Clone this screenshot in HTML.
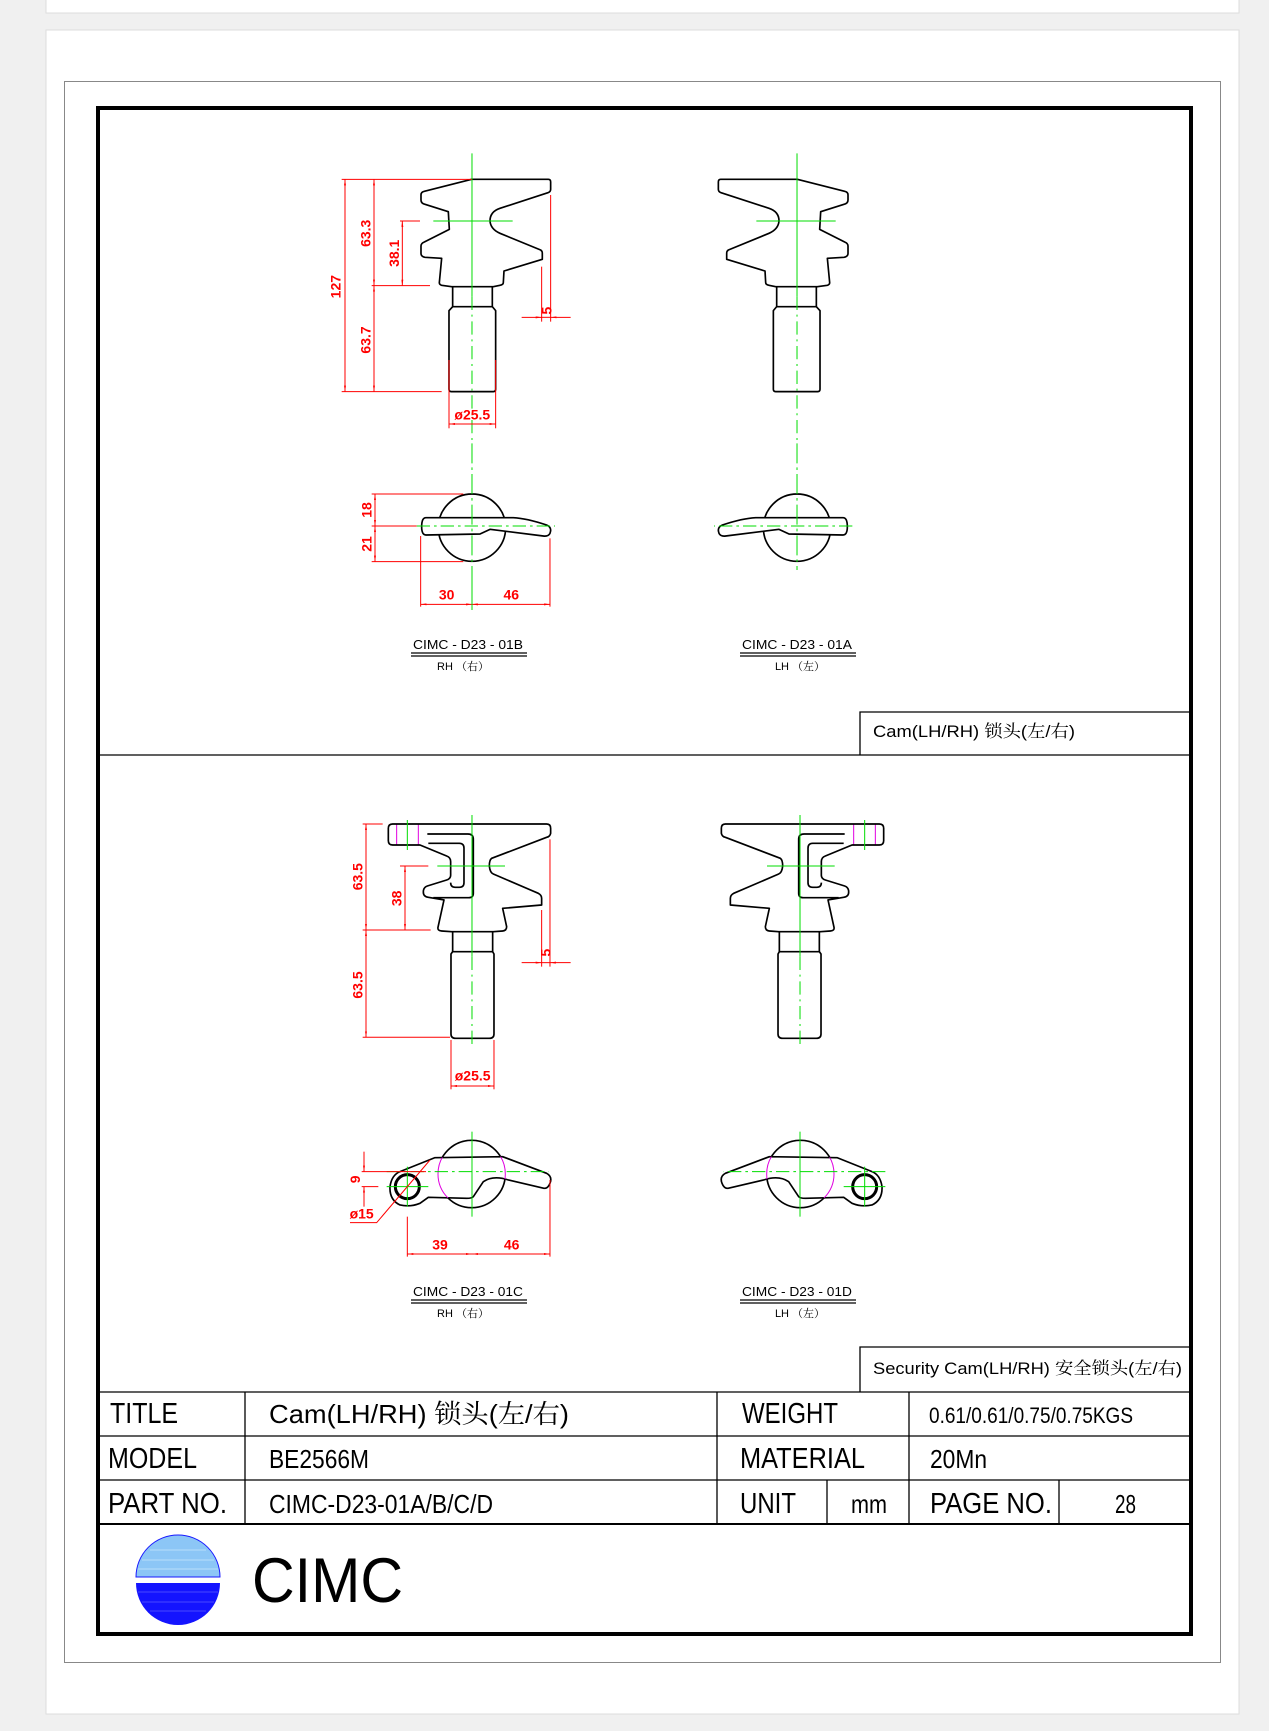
<!DOCTYPE html>
<html><head><meta charset="utf-8"><style>
html,body{margin:0;padding:0;background:#f0f0f0;}
svg{display:block;}
text{font-family:"Liberation Sans","Noto Serif CJK SC",serif;}
</style></head><body>
<svg width="1269" height="1731" viewBox="0 0 1269 1731" xmlns="http://www.w3.org/2000/svg">
<defs>
<marker id="ar" viewBox="0 0 10 10" refX="10" refY="5" markerWidth="18" markerHeight="6" markerUnits="userSpaceOnUse" orient="auto-start-reverse" preserveAspectRatio="none"><path d="M0,0 L10,5 L0,10 Z" fill="#f00"/></marker>
<clipPath id="hc"><path d="M345,143 L548,140 L680,190 Q698,200 690,220 Q684,236 672,235 L565,210 Q520,195 490,215 L460,260 Q455,265 440,265 L325,262 L300,280 Q270,292 240,285 Q208,270 210,230 Q215,195 240,185 Z"/></clipPath>
</defs>
<rect x="0" y="0" width="1269" height="1731" fill="#f0f0f0"/>
<rect x="46" y="-2" width="1193" height="15" fill="#fff" stroke="#ddd"/>
<rect x="46" y="30" width="1193" height="1684" fill="#fff" stroke="#ddd"/>
<rect x="64.5" y="81.5" width="1156" height="1581" fill="none" stroke="#888" stroke-width="1"/>
<rect x="98" y="108" width="1093" height="1526" fill="none" stroke="#000" stroke-width="4"/>
<line x1="98" y1="755" x2="1191" y2="755" stroke="#000" stroke-width="1.3"/>
<polyline points="860,755 860,712 1189,712" fill="none" stroke="#000" stroke-width="1.3"/>
<text x="873" y="737" font-size="17" textLength="202" lengthAdjust="spacingAndGlyphs">Cam(LH/RH)  锁头(左/右)</text>
<polyline points="860,1392 860,1347 1189,1347" fill="none" stroke="#000" stroke-width="1.3"/>
<text x="873" y="1374" font-size="17" textLength="309" lengthAdjust="spacingAndGlyphs">Security Cam(LH/RH)  安全锁头(左/右)</text>
<g stroke="#000" stroke-width="1.3">
<line x1="98" y1="1392" x2="1191" y2="1392"/>
<line x1="98" y1="1436" x2="1191" y2="1436"/>
<line x1="98" y1="1480" x2="1191" y2="1480"/>
<line x1="98" y1="1524" x2="1191" y2="1524" stroke-width="2"/>
<line x1="245" y1="1392" x2="245" y2="1524"/>
<line x1="717" y1="1392" x2="717" y2="1524"/>
<line x1="909" y1="1392" x2="909" y2="1524"/>
<line x1="827" y1="1480" x2="827" y2="1524"/>
<line x1="1059" y1="1480" x2="1059" y2="1524"/>
</g>
<g font-size="29">
<text x="110" y="1423" textLength="68" lengthAdjust="spacingAndGlyphs">TITLE</text>
<text x="108" y="1468" textLength="89" lengthAdjust="spacingAndGlyphs">MODEL</text>
<text x="108" y="1513" textLength="119" lengthAdjust="spacingAndGlyphs">PART NO.</text>
<text x="742" y="1423" textLength="96" lengthAdjust="spacingAndGlyphs">WEIGHT</text>
<text x="740" y="1468" textLength="125" lengthAdjust="spacingAndGlyphs">MATERIAL</text>
<text x="740" y="1513" textLength="56" lengthAdjust="spacingAndGlyphs">UNIT</text>
<text x="930" y="1513" textLength="122" lengthAdjust="spacingAndGlyphs">PAGE NO.</text>
</g>
<g font-size="26">
<text x="269" y="1423" textLength="300" lengthAdjust="spacingAndGlyphs">Cam(LH/RH)  锁头(左/右)</text>
<text x="269" y="1468" textLength="100" lengthAdjust="spacingAndGlyphs">BE2566M</text>
<text x="269" y="1513" textLength="224" lengthAdjust="spacingAndGlyphs">CIMC-D23-01A/B/C/D</text>
<text x="851" y="1513" textLength="36" lengthAdjust="spacingAndGlyphs">mm</text>
<text x="1115" y="1513" textLength="21" lengthAdjust="spacingAndGlyphs">28</text>
</g>
<text x="929" y="1423" font-size="22" textLength="204" lengthAdjust="spacingAndGlyphs">0.61/0.61/0.75/0.75KGS</text>
<text x="930" y="1468" font-size="26" textLength="57" lengthAdjust="spacingAndGlyphs">20Mn</text>
<!-- logo -->
<path d="M136,1577 A42,42 0 0 1 220,1577 Z" fill="#8cc6f6" stroke="#1a1aff" stroke-width="1"/>
<path d="M136,1583 A42,42 0 0 0 220,1583 Z" fill="#1414ff"/>
<g stroke="#c8e4fb" stroke-width="0.8"><line x1="150" y1="1550" x2="206" y2="1550"/><line x1="142" y1="1560" x2="214" y2="1560"/><line x1="138" y1="1569" x2="218" y2="1569"/></g>
<g stroke="#5a5aff" stroke-width="0.8"><line x1="138" y1="1592" x2="218" y2="1592"/><line x1="142" y1="1602" x2="214" y2="1602"/><line x1="150" y1="1611" x2="206" y2="1611"/></g>
<text x="252" y="1602" font-size="63" textLength="151" lengthAdjust="spacingAndGlyphs">CIMC</text>

<g id="pab">
<g transform="translate(320,140) scale(0.3333)" fill="none" stroke-linejoin="round">
<g stroke="#000" stroke-width="5">
<path d="M455,118 L685,118 Q692,118 692,126 L692,148 Q692,155 684,158 L540,205 Q510,215 510,243 Q512,268 540,280 L662,330 Q667,333 667,340 L667,358 L552,393 L550,428 Q550,434 540,436 L520,440 L395,440 L365,436 Q358,434 358,428 L365,355 L315,352 Q303,350 303,340 L303,318 Q303,310 313,306 L388,268 L385,215 L315,193 Q303,190 303,180 L303,165 Q303,156 313,154 Z"/>
<path d="M398,440 L398,500 M517,440 L517,500 M398,500 L517,500 L527,512 L527,748 Q527,755 520,755 L394,755 Q387,755 387,748 L387,512 Z"/>
</g>
<g stroke="#00dd00" stroke-width="3">
<line x1="456" y1="40" x2="456" y2="470"/>
<line x1="456" y1="470" x2="456" y2="900" stroke-dasharray="40 14 6 14"/>
<line x1="340" y1="243" x2="578" y2="243"/>
</g>
</g>
<g transform="translate(320,470) scale(0.3333)" stroke-linejoin="round">
<circle cx="456" cy="173" r="101" fill="none" stroke="#000" stroke-width="5"/>
<path d="M318,143 L580,143 Q620,145 680,165 Q697,172 690,190 Q685,200 670,198 L510,178 L480,192 L318,195 Q305,195 305,170 Q305,143 318,143 Z" fill="#fff" stroke="#000" stroke-width="5"/>
<g stroke="#00dd00" stroke-width="3">
<line x1="456" y1="-80" x2="456" y2="300" stroke-dasharray="60 12 8 12"/>
<line x1="290" y1="168" x2="705" y2="168" stroke-dasharray="40 12 8 12"/>
</g>
</g>
</g>
<use href="#pab" transform="translate(1269,0) scale(-1,1)"/>
<line x1="472" y1="570" x2="472" y2="610" stroke="#00dd00" stroke-width="1"/>

<g transform="translate(320,140) scale(0.3333)" stroke="#f00" stroke-width="3" fill="none">
<line x1="65" y1="118" x2="455" y2="118"/>
<line x1="65" y1="755" x2="365" y2="755"/>
<line x1="155" y1="437" x2="330" y2="437"/>
<line x1="240" y1="243" x2="300" y2="243"/>
<line x1="75" y1="118" x2="75" y2="755" marker-start="url(#ar)" marker-end="url(#ar)"/>
<line x1="162" y1="118" x2="162" y2="437" marker-start="url(#ar)" marker-end="url(#ar)"/>
<line x1="162" y1="437" x2="162" y2="755" marker-start="url(#ar)" marker-end="url(#ar)"/>
<line x1="247" y1="243" x2="247" y2="437" marker-start="url(#ar)" marker-end="url(#ar)"/>
<line x1="692" y1="165" x2="692" y2="545"/>
<line x1="665" y1="380" x2="665" y2="545"/>
<line x1="605" y1="532" x2="665" y2="532" marker-end="url(#ar)"/>
<line x1="752" y1="532" x2="692" y2="532" marker-end="url(#ar)"/>
<line x1="665" y1="532" x2="692" y2="532"/>
<line x1="387" y1="660" x2="387" y2="865"/>
<line x1="527" y1="660" x2="527" y2="865"/>
<line x1="387" y1="852" x2="527" y2="852" marker-start="url(#ar)" marker-end="url(#ar)"/>
<g fill="#f00" stroke="none" font-weight="bold" font-size="42" text-anchor="middle">
<text transform="translate(62,440) rotate(-90)">127</text>
<text transform="translate(152,280) rotate(-90)">63.3</text>
<text transform="translate(237,340) rotate(-90)">38.1</text>
<text transform="translate(152,600) rotate(-90)">63.7</text>
<text transform="translate(694,512) rotate(-90)">5</text>
<text x="457" y="838">ø25.5</text>
</g>
</g>
<g transform="translate(320,470) scale(0.3333)" stroke="#f00" stroke-width="3" fill="none">
<line x1="155" y1="72" x2="430" y2="72"/>
<line x1="155" y1="168" x2="290" y2="168"/>
<line x1="155" y1="275" x2="430" y2="275"/>
<line x1="165" y1="72" x2="165" y2="168" marker-start="url(#ar)" marker-end="url(#ar)"/>
<line x1="165" y1="168" x2="165" y2="275" marker-start="url(#ar)" marker-end="url(#ar)"/>
<line x1="302" y1="198" x2="302" y2="410"/>
<line x1="690" y1="205" x2="690" y2="410"/>
<line x1="302" y1="403" x2="456" y2="403" marker-start="url(#ar)" marker-end="url(#ar)"/>
<line x1="456" y1="403" x2="690" y2="403" marker-start="url(#ar)" marker-end="url(#ar)"/>
<line x1="456" y1="300" x2="456" y2="420" stroke="#00dd00"/>
<g fill="#f00" stroke="none" font-weight="bold" font-size="42" text-anchor="middle">
<text transform="translate(154,120) rotate(-90)">18</text>
<text transform="translate(154,222) rotate(-90)">21</text>
<text x="380" y="388">30</text>
<text x="574" y="388">46</text>
</g>
</g>

<g id="pcd">
<g transform="translate(320,800) scale(0.3333)" fill="none" stroke-linejoin="round">
<rect x="230" y="72" width="65" height="63" stroke="#e000e0" stroke-width="3"/>
<g stroke="#000" stroke-width="5">
<path d="M218,135 Q205,135 205,122 L205,85 Q205,72 218,72 L680,72 Q692,72 692,85 L692,100 Q690,110 680,112 L515,175 Q508,180 508,198 Q510,218 520,222 L655,280 Q665,285 665,295 L665,315 L548,325 L560,380 Q560,392 548,393 L520,395 L395,395 L365,393 Q352,392 354,382 L372,300 L325,292 Q310,290 310,276 Q310,262 322,258 L380,240 Q392,236 392,226 L392,185 Q392,172 380,168 L300,135 Z"/>
<path d="M322,102 L444,102 Q460,102 460,118 L460,280 Q460,293 446,293 L340,293"/>
<path d="M325,130 L418,130 Q432,130 432,145 L432,248 Q432,262 418,262 L406,262 Q392,262 392,248"/>
<path d="M398,395 L398,455 M518,395 L518,455 M398,455 L518,455 L522,462 L522,702 Q522,715 508,715 L407,715 Q393,715 393,702 L393,462 Z"/>
</g>
<g stroke="#00dd00" stroke-width="3">
<line x1="456" y1="45" x2="456" y2="470"/>
<line x1="456" y1="470" x2="456" y2="740" stroke-dasharray="40 14 6 14"/>
<line x1="352" y1="198" x2="555" y2="198"/>
<line x1="262" y1="60" x2="262" y2="150"/>
</g>
</g>
<g transform="translate(320,1110) scale(0.3333)" stroke-linejoin="round">
<circle cx="455" cy="192" r="101" fill="none" stroke="#000" stroke-width="5"/>
<path d="M345,143 L548,140 L680,190 Q698,200 690,220 Q684,236 672,235 L565,210 Q520,195 490,215 L460,260 Q455,265 440,265 L325,262 L300,280 Q270,292 240,285 Q208,270 210,230 Q215,195 240,185 Z" fill="#fff" stroke="#000" stroke-width="5"/>
<circle cx="455" cy="192" r="101" fill="none" stroke="#e000e0" stroke-width="3" clip-path="url(#hc)"/>
<circle cx="262" cy="230" r="36" fill="none" stroke="#000" stroke-width="9"/>
<g stroke="#00dd00" stroke-width="3">
<line x1="456" y1="65" x2="456" y2="320"/>
<line x1="200" y1="185" x2="685" y2="185" stroke-dasharray="40 12 8 12"/>
<line x1="262" y1="170" x2="262" y2="290"/>
<line x1="200" y1="230" x2="325" y2="230"/>
</g>
</g>
</g>
<use href="#pcd" transform="translate(1272,0) scale(-1,1)"/>

<g transform="translate(320,800) scale(0.3333)" stroke="#f00" stroke-width="3" fill="none">
<line x1="128" y1="72" x2="188" y2="72"/>
<line x1="128" y1="390" x2="332" y2="390"/>
<line x1="128" y1="712" x2="390" y2="712"/>
<line x1="240" y1="198" x2="325" y2="198"/>
<line x1="138" y1="72" x2="138" y2="390" marker-start="url(#ar)" marker-end="url(#ar)"/>
<line x1="138" y1="390" x2="138" y2="712" marker-start="url(#ar)" marker-end="url(#ar)"/>
<line x1="255" y1="198" x2="255" y2="390" marker-start="url(#ar)" marker-end="url(#ar)"/>
<line x1="690" y1="118" x2="690" y2="500"/>
<line x1="665" y1="330" x2="665" y2="500"/>
<line x1="605" y1="488" x2="665" y2="488" marker-end="url(#ar)"/>
<line x1="752" y1="488" x2="690" y2="488" marker-end="url(#ar)"/>
<line x1="665" y1="488" x2="690" y2="488"/>
<line x1="393" y1="720" x2="393" y2="868"/>
<line x1="522" y1="720" x2="522" y2="868"/>
<line x1="393" y1="858" x2="522" y2="858" marker-start="url(#ar)" marker-end="url(#ar)"/>
<g fill="#f00" stroke="none" font-weight="bold" font-size="42" text-anchor="middle">
<text transform="translate(127,230) rotate(-90)">63.5</text>
<text transform="translate(127,555) rotate(-90)">63.5</text>
<text transform="translate(244,295) rotate(-90)">38</text>
<text transform="translate(692,458) rotate(-90)">5</text>
<text x="458" y="842">ø25.5</text>
</g>
</g>
<g transform="translate(320,1110) scale(0.3333)" stroke="#f00" stroke-width="3" fill="none">
<line x1="125" y1="185" x2="318" y2="185"/>
<line x1="125" y1="230" x2="175" y2="230"/>
<line x1="132" y1="125" x2="132" y2="185" marker-end="url(#ar)"/>
<line x1="132" y1="290" x2="132" y2="230" marker-end="url(#ar)"/>
<polyline points="330,150 170,338 90,338"/>
<line x1="262" y1="320" x2="262" y2="440"/>
<line x1="690" y1="210" x2="690" y2="440"/>
<line x1="262" y1="432" x2="456" y2="432" marker-start="url(#ar)" marker-end="url(#ar)"/>
<line x1="456" y1="432" x2="690" y2="432" marker-start="url(#ar)" marker-end="url(#ar)"/>
<g fill="#f00" stroke="none" font-weight="bold" font-size="42" text-anchor="middle">
<text transform="translate(120,208) rotate(-90)">9</text>
<text x="125" y="326">ø15</text>
<text x="360" y="418">39</text>
<text x="575" y="418">46</text>
</g>
</g>

<g font-size="13" text-anchor="middle">
<text x="468" y="649" textLength="110" lengthAdjust="spacingAndGlyphs">CIMC - D23 - 01B</text>
<text x="463" y="670" font-size="11">RH （右）</text>
<text x="797" y="649" textLength="110" lengthAdjust="spacingAndGlyphs">CIMC - D23 - 01A</text>
<text x="800" y="670" font-size="11">LH  （左）</text>
<text x="468" y="1296" textLength="110" lengthAdjust="spacingAndGlyphs">CIMC - D23 - 01C</text>
<text x="463" y="1317" font-size="11">RH （右）</text>
<text x="797" y="1296" textLength="110" lengthAdjust="spacingAndGlyphs">CIMC - D23 - 01D</text>
<text x="800" y="1317" font-size="11">LH （左）</text>
</g>
<g stroke="#000" stroke-width="1.2">
<line x1="411" y1="653" x2="527" y2="653"/><line x1="411" y1="656" x2="527" y2="656"/>
<line x1="740" y1="653" x2="856" y2="653"/><line x1="740" y1="656" x2="856" y2="656"/>
<line x1="411" y1="1300" x2="527" y2="1300"/><line x1="411" y1="1303" x2="527" y2="1303"/>
<line x1="740" y1="1300" x2="856" y2="1300"/><line x1="740" y1="1303" x2="856" y2="1303"/>
</g>
</svg>
</body></html>
